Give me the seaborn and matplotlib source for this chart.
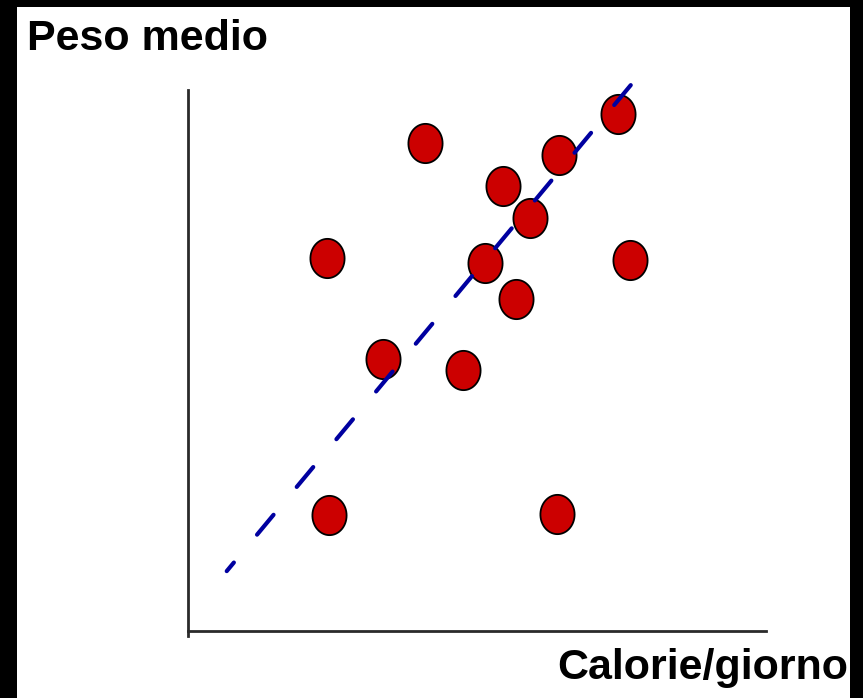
import matplotlib
matplotlib.use("Agg")
import matplotlib.pyplot as plt
import numpy as np
import pandas as pd
import seaborn as sns
from matplotlib.patches import Rectangle
from matplotlib.path import Path

# data (calorie/day vs average weight, arbitrary units)
cal = [4.10, 7.44, 6.42, 5.45, 5.92, 2.40, 5.14, 7.65, 5.67, 3.37, 4.76, 2.44, 6.38]
peso = [9.02, 9.56, 8.80, 8.23, 7.63, 6.89, 6.80, 6.86, 6.14, 5.03, 4.82, 2.13, 2.16]
# trend line, drawn from the top end down
trend_x = [7.66, 0.67]
trend_y = [10.09, 1.10]

sns.set_theme(style="white")
plt.rcParams['font.family'] = ['Liberation Sans', 'DejaVu Sans']

W, H = 863, 698
fig = plt.figure(figsize=(W / 100, H / 100), dpi=100)
fig.patch.set_facecolor("black")

# white page inside the black frame
bg = fig.add_axes([17 / W, 0, 833 / W, (H - 7) / H], zorder=-1)
bg.set_axis_off()
bg.add_patch(Rectangle((0, 0), 1, 1, transform=bg.transAxes,
                       facecolor="white", edgecolor="none"))

ax = fig.add_axes([188 / W, (H - 636) / H, (766 - 188) / W, (636 - 90) / H])
ax.patch.set_alpha(0)

# slightly squeezed circle, like the source picture
t = np.linspace(0, 2 * np.pi, 60)
ell = Path(np.column_stack([0.87 * np.cos(t), np.sin(t)]), closed=True)

df = pd.DataFrame({"cal": cal, "peso": peso})
sns.scatterplot(data=df, x="cal", y="peso", ax=ax, marker=ell, s=800,
                color="#cc0000", edgecolor="black", linewidth=1.3, zorder=3)

tr = pd.DataFrame({"x": trend_x, "y": trend_y})
sns.lineplot(data=tr, x="x", y="y", ax=ax, sort=False, color="#0000a0",
             lw=3, zorder=4, dash_capstyle="round", clip_on=False)
ax.lines[-1].set_linestyle((0, (6.2, 8.7)))

ax.set_xlim(0, 10)
ax.set_ylim(-0.1, 10)
ax.set_xlabel("")
ax.set_ylabel("")
ax.set_xticks([])
ax.set_yticks([])
for s in ["top", "right"]:
    ax.spines[s].set_visible(False)
for s in ["left", "bottom"]:
    ax.spines[s].set_color("#2a2a2a")
    ax.spines[s].set_linewidth(2)
ax.spines["bottom"].set_position(("data", 0))

fig.text(27 / W, 1 - 50 / H, "Peso medio", fontsize=31, fontweight="bold",
         color="black", va="baseline", ha="left")
fig.text(557 / W, 1 - 679 / H, "Calorie/giorno", fontsize=31, fontweight="bold",
         color="black", va="baseline", ha="left")

fig.savefig("out.png", dpi=100, facecolor=fig.get_facecolor())
